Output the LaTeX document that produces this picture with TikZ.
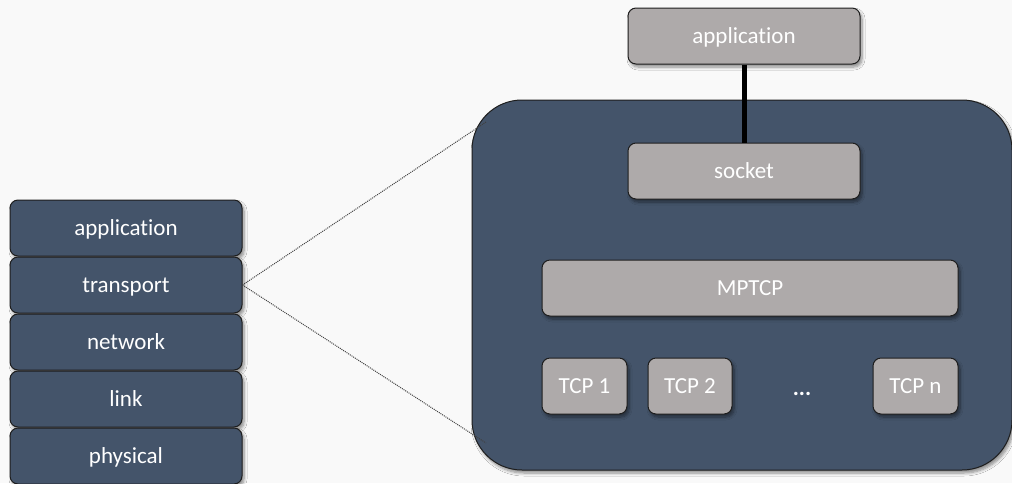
\documentclass[tikz,border=0pt]{standalone}
\usepackage{fontspec}
\setmainfont{Carlito}[Ligatures=CommonOff]
\usetikzlibrary{shadows.blur}

\definecolor{slate}{HTML}{44546A}
\definecolor{stone}{HTML}{AEAAAA}
\definecolor{paper}{HTML}{F9F9F9}
\definecolor{rim}{HTML}{1E1E1E}

\begin{document}
\begin{tikzpicture}[x=1pt, y=-1pt,
  softshadow/.style={blur shadow={shadow xshift=2pt, shadow yshift=-3pt,
      shadow blur radius=3pt, shadow blur steps=6, shadow opacity=45}},
  boxtext/.style={text=white, font=\fontsize{23}{26}\selectfont,
      text height=17pt, text depth=3pt},
  layer/.style={boxtext, draw=rim, line width=1pt, fill=slate,
      rounded corners=8pt, minimum width=232pt, minimum height=56pt,
      inner sep=0pt, softshadow},
  block/.style={boxtext, draw=rim, line width=1pt, fill=stone,
      rounded corners=8pt, minimum height=56pt, inner sep=0pt, softshadow},
  zoomline/.style={densely dotted, draw=black!75, line width=1pt},
  pipe/.style={draw=black, line width=5pt}]

  % canvas
  \fill[paper] (0,0) rectangle (1012,483);
  \useasboundingbox (0,0) rectangle (1012,483);

  % protocol stack on the left
  \node[layer] (lapp)   at (126,228) {application};
  \node[layer] (ltrans) at (126,285) {transport};
  \node[layer] (lnet)   at (126,342) {network};
  \node[layer] (llink)  at (126,399) {link};
  \node[layer] (lphy)   at (126,456) {physical};

  % expanded transport layer
  \node[draw=rim, line width=1pt, fill=slate, rounded corners=50pt,
        minimum width=540pt, minimum height=370pt, inner sep=0pt,
        softshadow] (stack) at (742,285) {};
  \coordinate (ztop) at (486,122);
  \coordinate (zbot) at (486,443);

  \draw[zoomline] (ltrans.east) -- (ztop);
  \draw[zoomline] (ltrans.east) -- (zbot);

  % blocks inside
  \node[block, minimum width=232pt] (app)    at (744,36)  {application};
  \node[block, minimum width=232pt] (socket) at (744,171) {socket};
  \node[block, minimum width=416pt] (mptcp)  at (750,288) {MPTCP};
  \node[block, minimum width=85pt]  (tcp1)   at (584.5,386) {TCP 1};
  \node[block, minimum width=84pt]  (tcp2)   at (690,386) {TCP 2};
  \node[boxtext] (dots) at (802,388) {\textbf{...}};
  \node[block, minimum width=85pt]  (tcpn)   at (915.5,386) {TCP n};

  \draw[pipe] (app.south) -- (socket.north);
\end{tikzpicture}
\end{document}
